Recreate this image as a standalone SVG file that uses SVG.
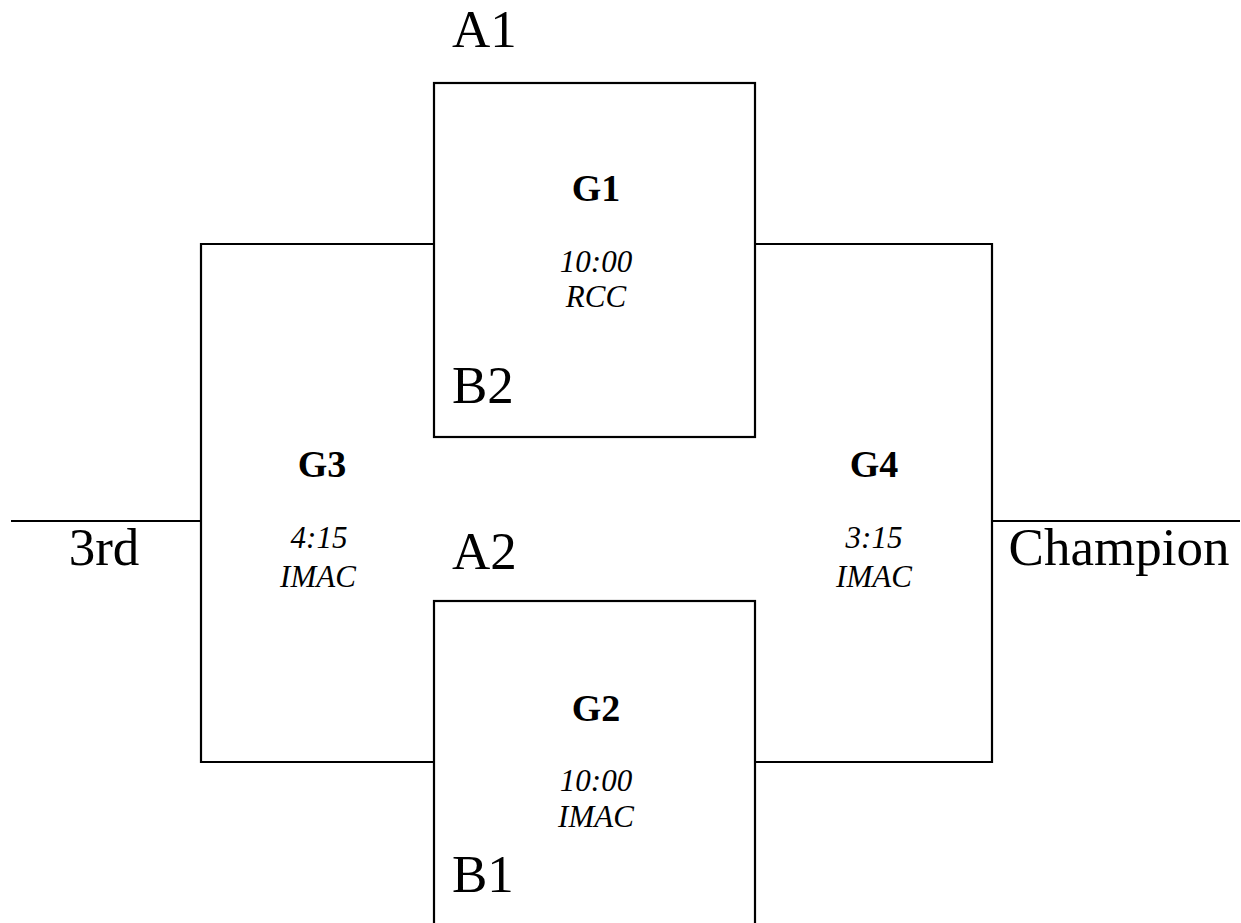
<svg xmlns="http://www.w3.org/2000/svg" width="1241" height="923" viewBox="0 0 1241 923">
<style>
.ln{fill:none;stroke:#000;stroke-width:2.2}
.big{font-family:"Liberation Serif","Times New Roman",serif;font-size:53px;fill:#000}
.t{font-family:"Liberation Serif","Times New Roman",serif;font-size:38px;font-weight:bold;fill:#000;text-anchor:middle}
.i{font-family:"Liberation Serif","Times New Roman",serif;font-size:31px;font-style:italic;fill:#000;text-anchor:middle}
</style>
<rect width="1241" height="923" fill="#fff"/>
<g id="G1">
<rect class="ln" x="434" y="83" width="321" height="354"/>
<text class="t" x="596" y="201">G1</text>
<text class="i" x="596" y="272">10:00</text>
<text class="i" x="596" y="307">RCC</text>
<text class="big" x="452" y="47">A1</text>
<text class="big" x="452" y="403">B2</text>
</g>
<g id="G2">
<rect class="ln" x="434" y="601" width="321" height="340"/>
<text class="t" x="596" y="721">G2</text>
<text class="i" x="596" y="791">10:00</text>
<text class="i" x="596" y="827">IMAC</text>
<text class="big" x="452" y="569">A2</text>
<text class="big" x="452" y="892">B1</text>
</g>
<g id="G3">
<path class="ln" d="M434 244 H201 V762 H434"/>
<text class="t" x="322" y="477">G3</text>
<text class="i" x="319" y="548">4:15</text>
<text class="i" x="318" y="587">IMAC</text>
</g>
<g id="G4">
<path class="ln" d="M755 244 H992 V762 H755"/>
<text class="t" x="874" y="477">G4</text>
<text class="i" x="874" y="548">3:15</text>
<text class="i" x="874" y="587">IMAC</text>
</g>
<g id="connectors">
<line class="ln" x1="11" y1="521" x2="201" y2="521"/>
<line class="ln" x1="992" y1="521" x2="1240" y2="521"/>
</g>
<g id="outcomes">
<text class="big" x="104" y="565" text-anchor="middle">3rd</text>
<text class="big" x="1119" y="565" text-anchor="middle">Champion</text>
</g>
</svg>
